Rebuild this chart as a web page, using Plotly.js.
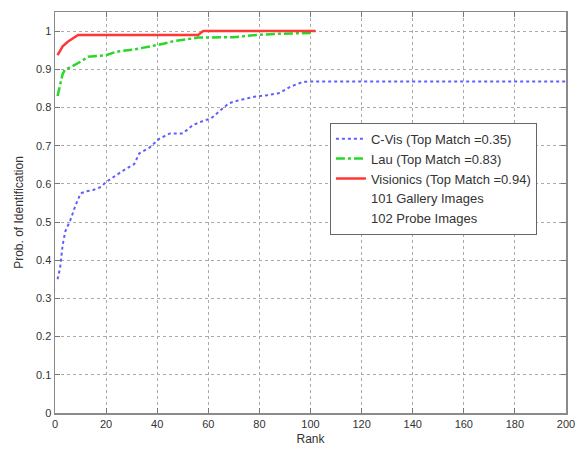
<!DOCTYPE html>
<html>
<head>
<meta charset="utf-8">
<script src="https://cdn.plot.ly/plotly-3.0.1.min.js"></script>
<style>html,body{margin:0;padding:0;background:#fff;}#chart{width:577px;height:449px;}</style>
</head>
<body>
<div id="chart"></div>
<script>
// C-Vis (blue dotted)
const cvisRank = [1, 2, 3, 4, 6, 8, 10, 12, 15, 18, 20, 23, 27, 31, 33, 37, 41, 45, 50, 54, 58, 61, 65, 68, 72, 78, 83, 88, 92, 97, 101, 150, 200];
const cvisProb = [0.35, 0.38, 0.44, 0.475, 0.505, 0.543, 0.575, 0.58, 0.584, 0.592, 0.605, 0.619, 0.636, 0.652, 0.68, 0.695, 0.719, 0.732, 0.732, 0.754, 0.765, 0.771, 0.795, 0.811, 0.819, 0.828, 0.832, 0.838, 0.854, 0.867, 0.868, 0.868, 0.868];
// Lau (green dash-dot)
const lauRank = [1, 2, 3, 4, 6, 10, 13, 20, 24, 31, 37, 42, 46, 52, 56, 70, 79, 87, 101];
const lauProb = [0.83, 0.86, 0.888, 0.9, 0.905, 0.92, 0.933, 0.937, 0.946, 0.952, 0.959, 0.966, 0.973, 0.978, 0.983, 0.984, 0.99, 0.993, 0.995];
// Visionics (red solid)
const visRank = [1, 2, 3, 5, 7, 9, 11, 56, 58, 102];
const visProb = [0.937, 0.95, 0.96, 0.972, 0.98, 0.99, 0.99, 0.99, 1.0, 1.0];

const seriesNames = ["C-Vis (Top Match =0.35)", "Lau (Top Match =0.83)", "Visionics (Top Match =0.94)"];
const noteNames = ["101 Gallery Images", "102 Probe Images"];
const xTicks = [0, 20, 40, 60, 80, 100, 120, 140, 160, 180, 200];
const yTicks = [0, 0.1, 0.2, 0.3, 0.4, 0.5, 0.6, 0.7, 0.8, 0.9, 1];

const font = {family: "Liberation Sans, Arial, sans-serif", size: 11, color: "#333"};

const traces = [
  {x: cvisRank, y: cvisProb, mode: "lines", name: seriesNames[0],
   line: {color: "rgb(95,95,255)", width: 2, dash: "dot"}},
  {x: lauRank, y: lauProb, mode: "lines", name: seriesNames[1],
   line: {color: "rgb(40,215,40)", width: 2.5, dash: "dashdot"}},
  {x: visRank, y: visProb, mode: "lines", name: seriesNames[2],
   line: {color: "rgb(255,55,55)", width: 2.5}},
  {x: [null], y: [null], mode: "lines", name: noteNames[0],
   line: {color: "rgba(0,0,0,0)", width: 0}, hoverinfo: "skip"},
  {x: [null], y: [null], mode: "lines", name: noteNames[1],
   line: {color: "rgba(0,0,0,0)", width: 0}, hoverinfo: "skip"}
];

const axisCommon = {
  showline: true, linecolor: "#8a8a8a", linewidth: 1.5, mirror: "ticks",
  ticks: "inside", ticklen: 5, tickcolor: "#777", tickwidth: 1,
  showgrid: true, gridcolor: "#aaa", griddash: "dot", gridwidth: 1,
  zeroline: false, tickfont: font
};

const layout = {
  width: 577, height: 449,
  margin: {l: 55, r: 11, t: 12, b: 36},
  paper_bgcolor: "#fff", plot_bgcolor: "#fff",
  font: font,
  showlegend: true,
  legend: {x: 0.538, y: 0.724, xanchor: "left", yanchor: "top",
           bgcolor: "#fff", bordercolor: "#666", borderwidth: 1,
           font: {family: font.family, size: 13, color: "#333"}},
  xaxis: Object.assign({}, axisCommon, {
    range: [0, 200], tickvals: xTicks, ticktext: xTicks.map(String),
    title: {text: "Rank", font: {family: font.family, size: 12, color: "#333"}, standoff: 6}
  }),
  yaxis: Object.assign({}, axisCommon, {
    range: [0, 1.05], tickvals: yTicks, ticktext: yTicks.map(String),
    title: {text: "Prob. of Identification", font: {family: font.family, size: 12, color: "#333"}, standoff: 10}
  })
};

Plotly.newPlot("chart", traces, layout, {displayModeBar: false, staticPlot: true});
</script>
</body>
</html>
